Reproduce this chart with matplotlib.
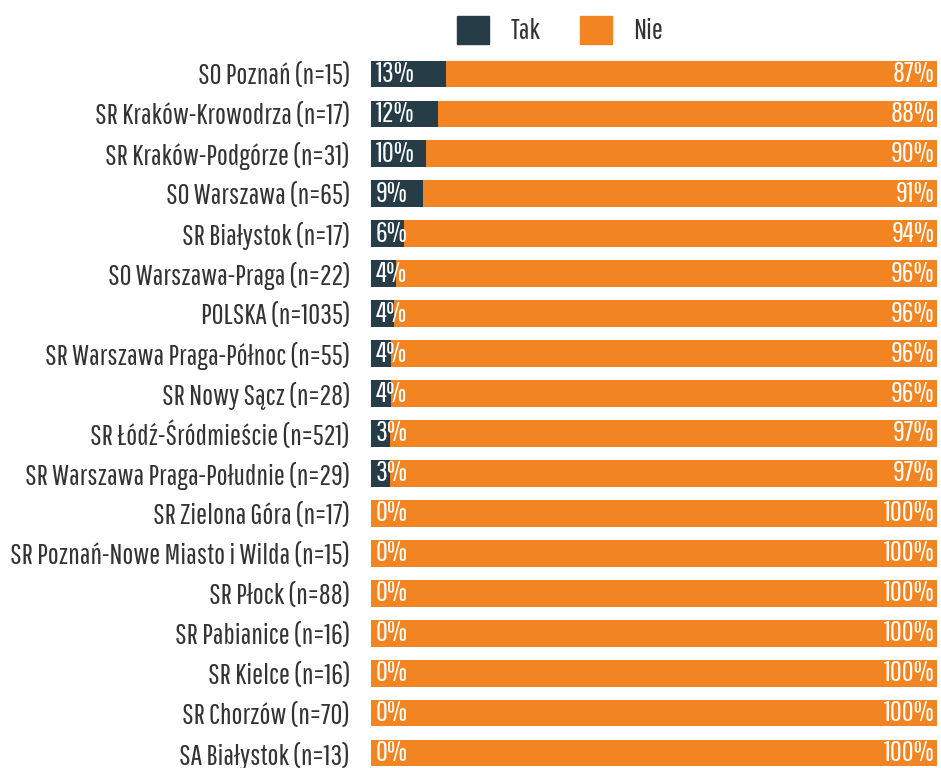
import matplotlib.pyplot as plt
from matplotlib.patches import Patch
from matplotlib import font_manager

# lekki, zwężony krój jak w oryginale
fonts = font_manager.fontManager.ttflist
names = {f.name for f in fonts}
FONT, WEIGHT = "DejaVu Sans", "normal"
light_oswald = [f for f in fonts if f.name.startswith("Oswald") and isinstance(f.weight, int) and f.weight < 400]
if light_oswald:
    f = sorted(light_oswald, key=lambda f: -f.weight)[0]
    FONT, WEIGHT = f.name, f.weight
else:
    for cand in ["Oswald Light", "Pathway Gothic One", "Abel", "Oswald"]:
        if cand in names:
            FONT = cand
            break
plt.rcParams["font.family"] = [FONT, "DejaVu Sans"]
plt.rcParams["font.weight"] = WEIGHT

FS = 21

categories = [
    "SO Poznań (n=15)",
    "SR Kraków-Krowodrza (n=17)",
    "SR Kraków-Podgórze (n=31)",
    "SO Warszawa (n=65)",
    "SR Białystok (n=17)",
    "SO Warszawa-Praga (n=22)",
    "POLSKA (n=1035)",
    "SR Warszawa Praga-Północ (n=55)",
    "SR Nowy Sącz (n=28)",
    "SR Łódź-Śródmieście (n=521)",
    "SR Warszawa Praga-Południe (n=29)",
    "SR Zielona Góra (n=17)",
    "SR Poznań-Nowe Miasto i Wilda (n=15)",
    "SR Płock (n=88)",
    "SR Pabianice (n=16)",
    "SR Kielce (n=16)",
    "SR Chorzów (n=70)",
    "SA Białystok (n=13)",
]
tak = [13.3, 11.8, 9.7, 9.2, 5.9, 4.5, 4.0, 3.6, 3.6, 3.3, 3.4, 0, 0, 0, 0, 0, 0, 0]
nie = [100 - v for v in tak]

DARK = "#263c47"
ORANGE = "#f28522"

fig = plt.figure(figsize=(9.41, 7.68), dpi=100)
ax = fig.add_axes([371 / 941, 0, 566 / 941, 714 / 768])

y = list(range(len(categories)))
ax.barh(y, tak, height=0.67, color=DARK)
ax.barh(y, nie, left=tak, height=0.67, color=ORANGE)

for i in y:
    ax.text(0.8, i, f"{tak[i]:.0f}%", color="white", fontsize=FS,
            va="center", ha="left")
    ax.text(99.6, i, f"{nie[i]:.0f}%", color="white", fontsize=FS,
            va="center", ha="right")

ax.set_xlim(0, 100)
ax.set_ylim(17.375, -0.5)
ax.set_yticks(y)
ax.set_yticklabels(categories, fontsize=FS, color="#333333")
ax.tick_params(axis="y", length=0, pad=15)
ax.set_xticks([])
for s in ax.spines.values():
    s.set_visible(False)

handles = [Patch(color=DARK, label="Tak"), Patch(color=ORANGE, label="Nie")]
fig.legend(handles=handles, loc="center", bbox_to_anchor=(560 / 941, 1 - 30 / 768),
           ncol=2, frameon=False, fontsize=FS, handlelength=1.1, handleheight=1.1,
           handletextpad=0.72, columnspacing=1.35, labelcolor="#333333")

fig.savefig("out.png", dpi=100)
